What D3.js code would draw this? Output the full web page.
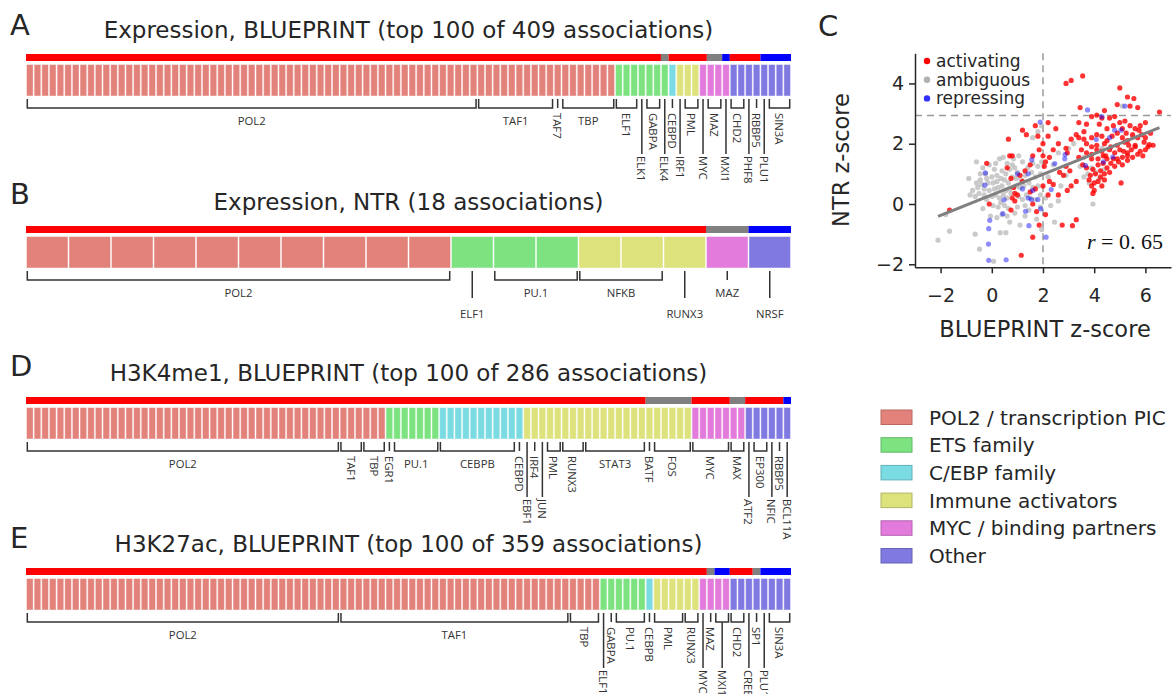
<!DOCTYPE html>
<html><head><meta charset="utf-8">
<script src="https://cdn.jsdelivr.net/npm/d3@7/dist/d3.min.js"></script>
<style>body{margin:0;background:#fff}svg{display:block}</style>
</head><body><svg id="chart" width="1172" height="694"></svg>
<script>
// ---------- shared categories ----------
const familyKeys = ["pol2","ets","cebp","imm","myc","oth"];
const familyNames = ["POL2 / transcription PIC","ETS family","C/EBP family","Immune activators","MYC / binding partners","Other"];
const familyColors = ["#e3817b","#7de381","#7adbe3","#dde27c","#e27bdb","#8079e2"];
const effectKeys = ["act","amb","rep"];
const effectNames = ["activating","ambiguous","repressing"];
const effectColors = ["#ff0000","#808080","#0000ff"];

// ---------- panel A ----------
const A_title = "Expression, BLUEPRINT (top 100 of 409 associations)";
const A_tf  = ["POL2","TAF1","TAF7","TBP","ELF1","ELK1","GABPA","ELK4","CEBPD","IRF1","PML","MYC","MAZ","MXI1","CHD2","PHF8","RBBP5","PLU1","SIN3A"];
const A_n   = [59,10,1,7,3,1,2,1,1,1,2,1,2,1,2,1,1,1,3];
const A_fam = ["pol2","pol2","pol2","pol2","ets","ets","ets","ets","cebp","imm","imm","myc","myc","myc","oth","oth","oth","oth","oth"];
const A_eff = ["act","act","act","act","act","act","act","amb","act","act","act","act","amb","rep","act","act","act","rep","rep"];
const A_lvl = [0,0,0,0,0,1,0,1,0,1,0,1,0,1,0,1,0,1,0];

// ---------- panel B ----------
const B_title = "Expression, NTR (18 associations)";
const B_tf  = ["POL2","ELF1","PU.1","NFKB","RUNX3","MAZ","NRSF"];
const B_n   = [10,1,2,2,1,1,1];
const B_fam = ["pol2","ets","ets","imm","imm","myc","oth"];
const B_eff = ["act","act","act","act","act","amb","rep"];
const B_lvl = [0,1,0,0,1,0,1];

// ---------- panel D ----------
const D_title = "H3K4me1, BLUEPRINT (top 100 of 286 associations)";
const D_tf  = ["POL2","TAF1","TBP","EGR1","PU.1","CEBPB","CEBPD","EBF1","IRF4","JUN","PML","RUNX3","STAT3","BATF","FOS","MYC","MAX","ATF2","EP300","NFIC","RBBP5","BCL11A"];
const D_n   = [41,3,3,1,6,10,1,1,1,1,2,3,8,1,5,5,2,1,2,1,1,1];
const D_fam = ["pol2","pol2","pol2","ets","ets","cebp","cebp","imm","imm","imm","imm","imm","imm","imm","imm","myc","myc","oth","oth","oth","oth","oth"];
const D_eff = ["act","act","act","act","act","act","act","act","act","act","act","act","act","amb","amb","act","amb","act","act","act","act","rep"];
const D_lvl = [0,0,0,0,0,0,0,1,0,1,0,0,0,0,0,0,0,1,0,1,0,1];

// ---------- panel E ----------
const E_title = "H3K27ac, BLUEPRINT (top 100 of 359 associations)";
const E_tf  = ["POL2","TAF1","TBP","ELF1","GABPA","PU.1","CEBPB","PML","RUNX3","MYC","MAZ","MXI1","CHD2","CREB1","SP1","PLU1","SIN3A"];
const E_n   = [41,30,4,1,1,4,1,4,2,1,1,2,2,1,1,1,3];
const E_fam = ["pol2","pol2","pol2","ets","ets","ets","cebp","imm","imm","myc","myc","myc","oth","oth","oth","oth","oth"];
const E_eff = ["act","act","act","act","act","act","act","act","act","act","amb","rep","act","act","amb","rep","rep"];
const E_lvl = [0,0,0,1,0,0,0,0,0,1,0,1,0,1,0,1,0];

// ---------- panel C (scatter, z-scores: [BLUEPRINT, NTR]) ----------
const xTicks = [-2,0,2,4,6];
const yTicks = [-2,0,2,4];
const xThreshold = 2.0;
const yThreshold = 2.94;
const fit = {slope: 0.34, intercept: 0.305, r: "0.65"};
const ambiguous = [
[-0.6,1.4],[-0.35,1.2],[-0.1,1.3],[0.1,1.15],[0.3,1.5],[0.45,1.55],[0.6,1.35],[0.85,1.5],[1.05,1.6],[1.2,1.4],
[0.4,1.1],[0.55,1.0],[0.7,1.15],[0.9,1.2],[1.0,1.05],[0.2,0.95],[0.0,0.9],[-0.2,0.85],[-0.45,0.8],[-0.6,0.7],
[-0.55,0.55],[-0.4,0.65],[-0.3,0.5],[-0.15,0.7],[0.05,0.7],[0.2,0.75],[0.35,0.85],[0.5,0.8],[0.65,0.7],[0.8,0.9],
[0.95,0.85],[1.15,0.8],[1.3,0.95],[1.4,1.2],[1.55,1.05],[1.7,0.9],[1.9,1.0],[1.95,1.4],[1.8,1.25],[-0.75,0.45],
[-0.85,0.3],[-0.65,0.25],[-0.5,0.35],[-0.3,0.3],[-0.1,0.45],[0.1,0.5],[0.25,0.55],[0.4,0.6],[0.55,0.45],[0.7,0.5],
[0.95,0.6],[1.1,0.55],[1.25,0.6],[1.45,0.7],[1.6,0.55],[1.8,0.6],[-0.2,0.15],[0.0,0.25],[0.15,0.3],[0.3,0.2],
[0.45,0.3],[0.6,0.2],[0.75,0.35],[1.05,0.25],[1.2,0.15],[1.35,0.3],[1.5,0.2],[1.7,0.15],[1.9,0.3],[2.1,0.2],
[0.05,-0.05],[0.25,-0.1],[0.5,-0.05],[0.65,-0.15],[1.0,-0.1],[1.3,-0.05],[-0.35,-0.15],[0.4,-0.35],[0.6,-0.4],[0.2,-0.45],
[-0.05,-0.4],[1.9,-0.1],[2.3,-0.05],[2.6,0.1],[1.75,-0.5],[-2.1,-1.2],[-1.65,-0.9],[-1.8,-0.35],[-0.65,-1.0],[-0.48,-1.5],
[0.07,-1.9],[0.33,-0.95],[0.55,-0.95],[0.7,-0.6],[1.1,-0.7],[2.45,-0.6],[1.95,-0.85],[3.95,0.0],[3.8,0.7],[3.6,0.9],
[3.75,1.0],[4.05,1.05],[4.2,0.85],[3.9,1.2],[4.4,1.15],[3.6,1.55],[3.45,1.25],[3.0,1.85],[3.2,2.0],[2.6,1.7],
[2.4,1.3],[1.95,2.6],[1.8,2.4],[1.6,2.2],[4.3,1.85],[5.1,3.25],[5.5,2.25],[-0.9,0.85],[-0.25,1.0],[2.2,0.9],
[2.7,0.6],[1.3,-0.4],[0.9,-0.3],[2.9,0.95],[0.15,1.35],[0.8,1.3],[-0.45,1.0],[1.6,1.35],[0.35,0.05],[1.45,-0.2]
];
const activating = [
[2.9,4.0],[3.1,4.1],[3.55,4.25],[3.45,3.2],[5.0,3.85],[5.3,3.55],[5.55,3.5],[5.7,3.2],[6.55,3.05],[4.9,3.3],[4.4,3.1],[5.4,3.25],
[3.9,2.9],[4.1,2.95],[4.3,2.85],[4.6,2.85],[4.8,2.9],[5.0,2.7],[5.2,2.75],[5.4,2.6],[5.6,2.5],[5.8,2.6],[6.0,2.7],[5.1,2.5],
[4.5,2.5],[4.2,2.65],[3.6,2.4],[3.4,2.7],[3.7,2.65],[3.4,2.2],[3.6,2.15],[3.9,2.2],[4.1,2.3],[4.3,2.25],[4.5,2.1],[4.7,2.25],
[4.9,2.35],[5.1,2.2],[5.3,2.1],[5.5,2.3],[5.7,2.2],[5.85,2.3],[6.0,2.2],[6.2,2.35],[5.6,1.95],[5.35,1.95],[5.2,2.05],[4.9,1.95],
[4.65,1.9],[4.4,2.0],[4.1,1.95],[3.9,1.9],[3.7,2.0],[6.3,1.95],[6.1,1.9],[5.95,2.05],[3.5,1.8],[3.7,1.7],[3.9,1.65],[4.1,1.8],
[4.3,1.75],[4.45,1.6],[4.6,1.8],[4.8,1.7],[5.0,1.8],[5.15,1.75],[5.3,1.7],[5.45,1.8],[5.6,1.9],[5.8,1.75],[6.0,1.8],[5.5,1.55],
[5.3,1.6],[5.1,1.55],[4.9,1.5],[4.75,1.5],[4.5,1.5],[4.35,1.6],[4.15,1.5],[3.9,1.5],[5.7,1.65],[5.9,1.6],[3.55,1.3],[3.7,1.2],
[3.95,1.15],[4.15,1.3],[4.35,1.35],[4.5,1.2],[4.65,1.35],[4.8,1.25],[4.95,1.4],[5.1,1.3],[5.3,1.45],[4.6,1.05],[4.4,1.0],[4.25,1.1],
[3.85,0.95],[4.05,1.0],[3.8,0.8],[3.9,0.6],[4.0,0.7],[4.15,0.75],[4.3,0.6],[4.4,0.8],[4.0,0.45],[3.95,0.35],[5.05,0.7],[4.25,0.9],
[1.2,2.45],[1.35,2.3],[0.65,2.15],[1.7,2.6],[1.8,2.25],[2.2,2.7],[2.2,2.25],[2.0,2.0],[1.85,1.8],[2.5,2.5],[2.6,2.0],[2.9,1.85],
[2.95,1.7],[3.1,2.15],[3.3,2.3],[0.7,1.6],[0.8,1.6],[-0.2,1.35],[2.0,1.6],[2.25,1.55],[2.1,1.4],[2.05,1.25],[1.5,1.3],[1.6,1.6],
[1.1,0.95],[1.2,0.75],[0.75,0.85],[0.85,0.55],[0.9,0.35],[0.9,0.1],[0.8,0.2],[0.75,-0.2],[-0.1,0.0],[1.5,0.4],[1.6,0.0],[1.7,0.5],
[2.0,0.6],[2.25,0.75],[2.4,0.65],[2.65,1.05],[2.9,1.25],[2.8,0.95],[2.95,0.45],[3.1,0.6],[3.3,0.75],[2.1,-0.35],[1.75,-0.25],[1.85,-0.7],
[1.6,-1.1],[1.15,-1.7],[2.75,-0.7],[3.15,-0.72],[3.3,-0.52],[2.2,0.3],[2.6,0.3],[3.05,1.1],[3.4,1.55],[1.3,1.1],[0.6,1.2],[1.0,0.3],
[2.4,1.8],[-1.65,-0.2],[6.15,1.97],[5.75,2.45],[5.25,2.35],[4.75,2.6]
];
const repressing = [
[3.74,3.12],[1.89,2.72],[2.86,1.64],[2.85,1.5],[1.56,1.47],[2.46,1.34],[1.42,1.0],[1.0,1.0],[-0.25,1.03],[-0.27,0.63],
[0.48,0.14],[1.6,0.45],[1.42,0.2],[1.55,0.15],[1.8,0.15],[1.32,-0.24],[1.91,-0.16],[0.43,-0.32],[-0.08,-0.54],[-0.12,-0.82],
[-0.13,-1.33],[-0.12,-1.87],[0.56,-1.85],[1.45,-0.72],[2.12,-1.1],[2.32,0.48],[3.66,1.28],[4.08,2.14],[4.8,2.45],[5.05,2.45],
[4.73,1.56],[4.36,1.40],[4.6,2.2],[5.2,3.25],[4.3,2.9],[1.2,0.5]
];

// ---------- drawing ----------
const svg = d3.select("#chart");
const famColor = d3.scaleOrdinal().domain(familyKeys).range(familyColors);
const effColor = d3.scaleOrdinal().domain(effectKeys).range(effectColors);
const LABEL_FONT = "'Open Sans', sans-serif";
const MAIN_FONT = "'DejaVu Sans', sans-serif";
const INK = "#262626";

function drawPanel(letter, letterY, title, tf, n, fam, eff, lvl, top) {
  const g = svg.append("g");
  const N = d3.sum(n);
  const x = d3.scaleLinear().domain([0, N]).range([26, 791]);
  let s = 0;
  const items = tf.map((t, i) => { const o = {name: t, n: n[i], fam: fam[i], eff: eff[i], lvl: lvl[i], s: s}; s += n[i]; return o; });
  const cells = [];
  items.forEach(it => { for (let k = 0; k < it.n; k++) cells.push({i: it.s + k, fam: it.fam}); });
  // merge consecutive items with the same effect into runs for the top bar
  const runs = [];
  items.forEach(it => {
    const last = runs[runs.length - 1];
    if (last && last.eff === it.eff) last.e = it.s + it.n;
    else runs.push({eff: it.eff, s: it.s, e: it.s + it.n});
  });

  g.append("text").attr("x", 10).attr("y", letterY).attr("font-family", MAIN_FONT)
    .attr("font-size", 29).attr("fill", INK).text(letter);
  g.append("text").attr("x", (x.range()[0] + x.range()[1]) / 2).attr("y", top - 26)
    .attr("text-anchor", "middle").attr("font-family", MAIN_FONT).attr("font-size", 23)
    .attr("fill", INK).text(title);

  // effect bar
  g.selectAll("rect.eff").data(runs).join("rect").attr("class", "eff")
    .attr("x", d => x(d.s)).attr("width", d => x(d.e) - x(d.s))
    .attr("y", top - 10).attr("height", 7).attr("fill", d => effColor(d.eff));

  // cells
  g.selectAll("rect.cell").data(cells).join("rect").attr("class", "cell")
    .attr("x", d => x(d.i) + 0.5).attr("width", d => x(d.i + 1) - x(d.i) - 1)
    .attr("y", top + 0.5).attr("height", 31.5).attr("fill", d => famColor(d.fam))
    .attr("stroke", "#fff").attr("stroke-opacity", 0.45).attr("stroke-width", 1);

  // brackets + labels
  const yT = top + 35, yB = top + 44;
  items.forEach(it => {
    const x0 = x(it.s) + 1.3, x1 = x(it.s + it.n) - 1.3, xc = (x(it.s) + x(it.s + it.n)) / 2;
    const horiz = (x(it.s + it.n) - x(it.s)) >= 40;
    if (it.n > 1) {
      g.append("path").attr("d", `M${x0},${yT}V${yB}H${x1}V${yT}`)
        .attr("fill", "none").attr("stroke", "#333").attr("stroke-width", 1.5);
    }
    let lineEnd = yB;
    if (it.lvl === 1) lineEnd = horiz ? top + 62 : top + 90;
    if (it.n === 1 || it.lvl === 1) {
      g.append("line").attr("x1", xc).attr("x2", xc).attr("y1", it.n > 1 ? yB : yT).attr("y2", lineEnd)
        .attr("stroke", "#333").attr("stroke-width", 1.5);
    }
    const t = g.append("text").attr("font-family", LABEL_FONT).attr("font-size", 11.3).attr("fill", "#333").text(it.name);
    if (horiz) {
      t.attr("x", xc).attr("y", it.lvl === 1 ? top + 77 : top + 56).attr("text-anchor", "middle").attr("dominant-baseline", "central");
    } else {
      t.attr("transform", `translate(${xc},${it.lvl === 1 ? top + 92 : top + 49}) rotate(90)`)
        .attr("text-anchor", "start").attr("dominant-baseline", "central");
    }
  });
}

drawPanel("A", 35, A_title, A_tf, A_n, A_fam, A_eff, A_lvl, 64);
drawPanel("B", 204, B_title, B_tf, B_n, B_fam, B_eff, B_lvl, 236);
drawPanel("D", 376, D_title, D_tf, D_n, D_fam, D_eff, D_lvl, 407);
drawPanel("E", 548, E_title, E_tf, E_n, E_fam, E_eff, E_lvl, 578);

// ---------- scatter C ----------
const gc = svg.append("g");
const sx = d3.scaleLinear().domain([-3, 7]).range([915, 1171]);
const sy = d3.scaleLinear().domain([-2.1, 5]).range([267.3, 53.3]);
gc.append("text").attr("x", 818).attr("y", 36).attr("font-family", MAIN_FONT).attr("font-size", 29).attr("fill", INK).text("C");

gc.append("line").attr("x1", sx(xThreshold)).attr("x2", sx(xThreshold)).attr("y1", sy.range()[1]).attr("y2", sy.range()[0])
  .attr("stroke", "#9a9a9a").attr("stroke-width", 1.5).attr("stroke-dasharray", "7,5");
gc.append("line").attr("x1", sx.range()[0]).attr("x2", sx.range()[1]).attr("y1", sy(yThreshold)).attr("y2", sy(yThreshold))
  .attr("stroke", "#9a9a9a").attr("stroke-width", 1.5).attr("stroke-dasharray", "7,5");

const pts = gc.append("g");
pts.selectAll("circle.amb").data(ambiguous).join("circle").attr("class", "amb")
  .attr("cx", d => sx(d[0])).attr("cy", d => sy(d[1])).attr("r", 2.6).attr("fill", "#b4b4b4").attr("fill-opacity", 0.7);
pts.selectAll("circle.act").data(activating).join("circle").attr("class", "act")
  .attr("cx", d => sx(d[0])).attr("cy", d => sy(d[1])).attr("r", 2.6).attr("fill", effectColors[0]).attr("fill-opacity", 0.8);
pts.selectAll("circle.rep").data(repressing).join("circle").attr("class", "rep")
  .attr("cx", d => sx(d[0])).attr("cy", d => sy(d[1])).attr("r", 2.6).attr("fill", effectColors[2]).attr("fill-opacity", 0.45);

const allPts = ambiguous.concat(activating, repressing);
const fx = d3.extent(allPts, d => d[0]);
gc.append("line").attr("x1", sx(fx[0])).attr("x2", sx(fx[1]))
  .attr("y1", sy(fit.intercept + fit.slope * fx[0])).attr("y2", sy(fit.intercept + fit.slope * fx[1]))
  .attr("stroke", "#808080").attr("stroke-width", 3);

const fmt = d => d < 0 ? "\u2212" + Math.abs(d) : String(d);
const ax = gc.append("g").attr("transform", `translate(0,${sy.range()[0]})`)
  .call(d3.axisBottom(sx).tickValues(xTicks).tickFormat(fmt).tickSize(6).tickSizeOuter(0).tickPadding(15));
const ay = gc.append("g").attr("transform", `translate(${sx.range()[0]},0)`)
  .call(d3.axisLeft(sy).tickValues(yTicks).tickFormat(fmt).tickSize(6).tickSizeOuter(0).tickPadding(5));
[ax, ay].forEach(a => {
  a.selectAll("path,line").attr("stroke", INK).attr("stroke-width", 1.5);
  a.selectAll("text").attr("font-family", MAIN_FONT).attr("font-size", 19).attr("fill", INK);
});
ax.selectAll(".tick text").attr("y", 21).attr("dy", "0.71em");
gc.append("text").attr("x", 1045).attr("y", 337).attr("text-anchor", "middle").attr("font-family", MAIN_FONT)
  .attr("font-size", 22.5).attr("fill", INK).text("BLUEPRINT z-score");
gc.append("text").attr("transform", "translate(849,160) rotate(-90)").attr("text-anchor", "middle").attr("font-family", MAIN_FONT)
  .attr("font-size", 22.5).attr("fill", INK).text("NTR z-score");

const rt = gc.append("text").attr("x", 1163).attr("y", 249).attr("text-anchor", "end")
  .attr("font-family", "'Liberation Serif', serif").attr("font-size", 22).attr("fill", "#111");
rt.append("tspan").attr("font-style", "italic").text("r");
rt.append("tspan").text(" = 0. " + fit.r.slice(2));

const legC = gc.append("g");
const legCCol = ["#ff0000", "#b0b0b0", "#3030ff"];
effectNames.forEach((nm, i) => {
  legC.append("circle").attr("cx", 927).attr("cy", 61 + i * 18.7).attr("r", 3.2).attr("fill", legCCol[i]);
  legC.append("text").attr("x", 936).attr("y", 61 + i * 18.7).attr("dominant-baseline", "central")
    .attr("font-family", MAIN_FONT).attr("font-size", 17).attr("fill", INK).text(nm);
});

// ---------- family legend ----------
const lg = svg.append("g");
familyNames.forEach((nm, i) => {
  const y = 410 + i * 27.7;
  lg.append("rect").attr("x", 881).attr("y", y).attr("width", 31).attr("height", 14.5)
    .attr("fill", familyColors[i]).attr("stroke", d3.color(familyColors[i]).darker(0.6)).attr("stroke-width", 1);
  lg.append("text").attr("x", 929).attr("y", y + 7.5).attr("dominant-baseline", "central")
    .attr("font-family", MAIN_FONT).attr("font-size", 20).attr("fill", INK).text(nm);
});
</script></body></html>
